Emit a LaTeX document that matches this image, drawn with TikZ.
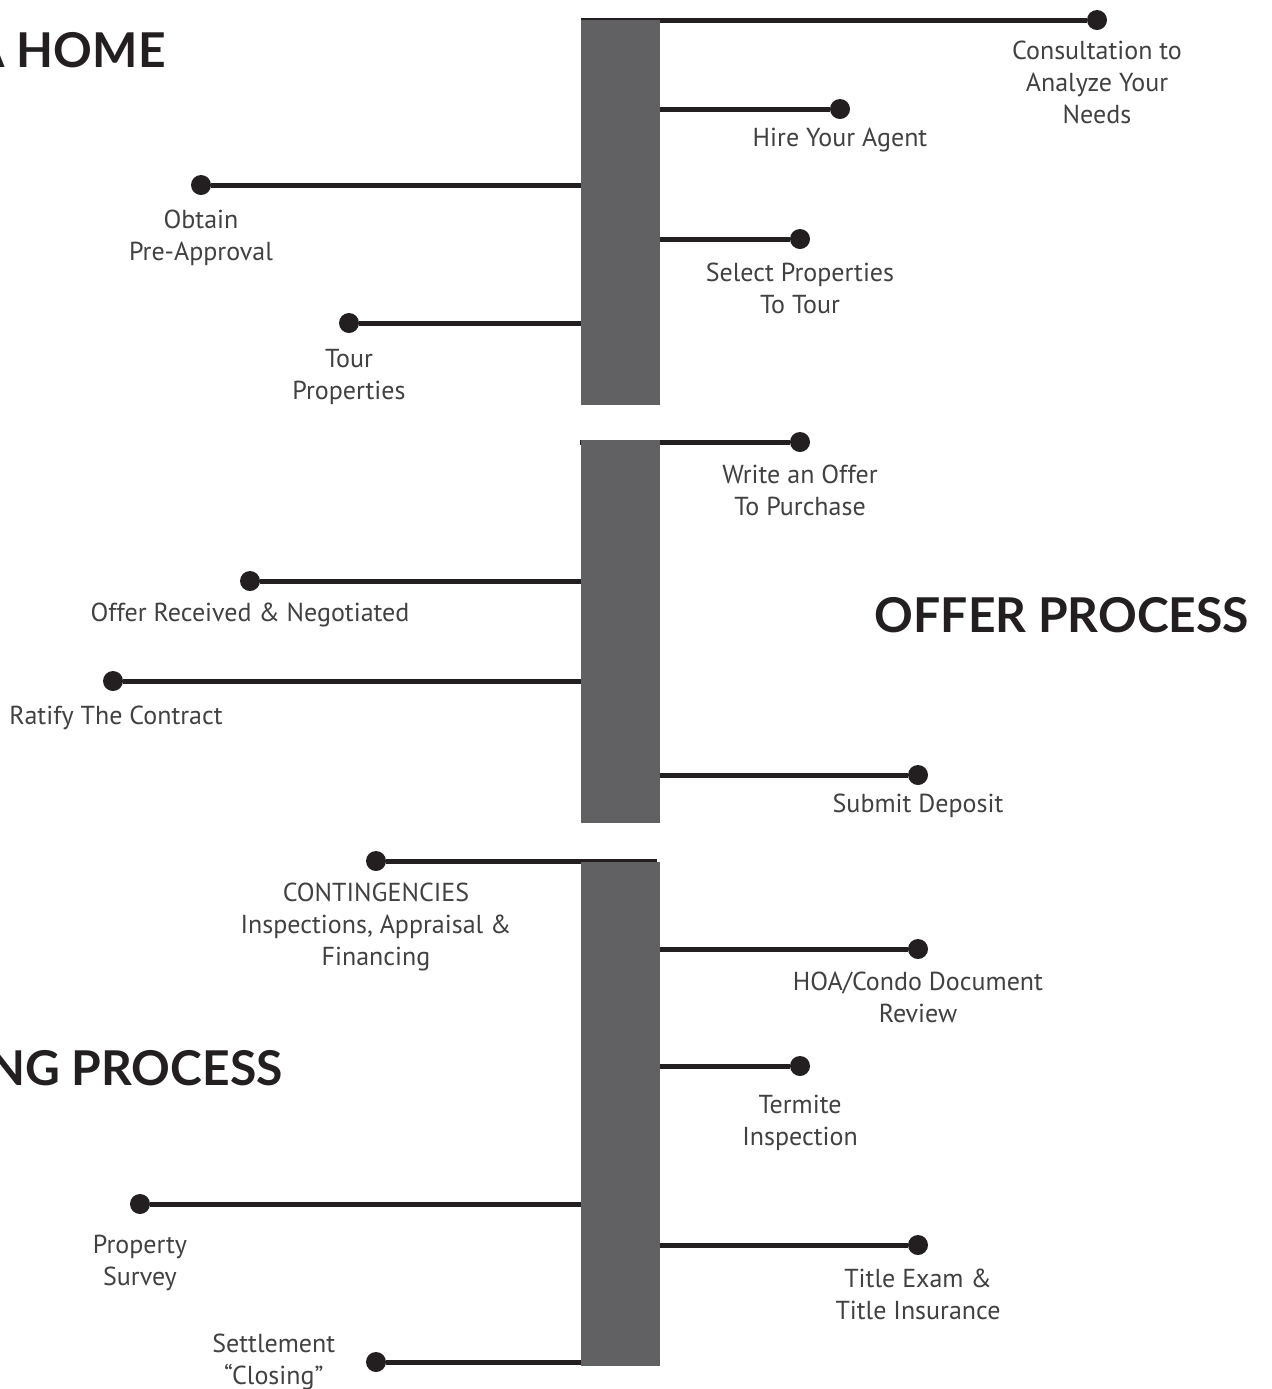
\documentclass[tikz,border=0pt]{standalone}
\usepackage{fontspec}
\setmainfont{PT Sans}
\newfontfamily\titlefont{Lato}
\usetikzlibrary{positioning}

\definecolor{barfill}{HTML}{616163}
\definecolor{inkdark}{HTML}{231F20}
\definecolor{inklabel}{HTML}{414042}

\tikzset{
	stem/.style={line width=2.5pt, color=inkdark},
	knob/.style={circle, fill=inkdark, inner sep=0pt, minimum size=10pt},
	steplabel/.style={align=center, text=inklabel, inner sep=0pt, font=\fontsize{13}{16}\selectfont},
	phase/.style={text=inkdark, inner sep=0pt, font=\titlefont\bfseries\fontsize{24}{30}\selectfont}
}

\begin{document}
\begin{tikzpicture}[x=0.5pt, y=-0.5pt]
	\clip (0,0) rectangle (1272,1389);

	% Titles
	\node[phase, anchor=east] (buytitle) at (166,50) {BUYING A HOME};
	\node[phase] (offertitle) at (1062,615) {OFFER PROCESS};
	\node[phase, anchor=east] (closetitle) at (283,1068) {CLOSING PROCESS};

	% First bar
	\begin{scope}
		\coordinate (consultbar) at (581,20);
		\coordinate (agentbar) at (660,109);
		\coordinate (preappbar) at (581,185);
		\coordinate (selectbar) at (660,239);
		\coordinate (tourbar) at (581,323);

		\node[knob] (consult) at (1097,20) {};
		\node[knob] (agent) at (840,109) {};
		\node[knob] (preapp) at (201,185) {};
		\node[knob] (select) at (800,239) {};
		\node[knob] (tour) at (349,323) {};

		\draw[stem] (consultbar) -- (consult);
		\draw[stem] (agentbar) -- (agent);
		\draw[stem] (preappbar) -- (preapp);
		\draw[stem] (selectbar) -- (select);
		\draw[stem] (tourbar) -- (tour);

		\node[steplabel, below=5pt of consult] {Consultation to\\Analyze Your\\Needs};
		\node[steplabel, below=4pt of agent] {Hire Your Agent};
		\node[steplabel, below=7pt of preapp] {Obtain\\Pre-Approval};
		\node[steplabel, below=6.5pt of select] {Select Properties\\To Tour};
		\node[steplabel, below=7.5pt of tour] {Tour\\Properties};

		\fill[barfill] (581,20) rectangle (660,405);
	\end{scope}

	% Second bar
	\begin{scope}
		\coordinate (writebar) at (580,442);
		\coordinate (receivedbar) at (585,581);
		\coordinate (ratifybar) at (581,681);
		\coordinate (depositbar) at (660,775);

		\node[knob] (write) at (800,442) {};
		\node[knob] (received) at (250,581) {};
		\node[knob] (ratify) at (113,681) {};
		\node[knob] (deposit) at (918,775) {};

		\draw[stem] (writebar) -- (write);
		\draw[stem] (receivedbar) -- (received);
		\draw[stem] (ratifybar) -- (ratify);
		\draw[stem] (depositbar) -- (deposit);

		\node[steplabel, below=6pt of write] {Write an Offer\\To Purchase};
		\node[steplabel, below=5.5pt of received] {Offer Received \& Negotiated};
		\node[steplabel, below=7pt of ratify, xshift=1.5pt] {Ratify The Contract};
		\node[steplabel, below=4pt of deposit] {Submit Deposit};

		\fill[barfill] (581,440) rectangle (660,823);
	\end{scope}

	% Third bar
	\begin{scope}
		\coordinate (contingbar) at (657,861);
		\coordinate (hoabar) at (660,949);
		\coordinate (termitebar) at (660,1066);
		\coordinate (surveybar) at (581,1204);
		\coordinate (titlebar) at (660,1245);
		\coordinate (settlebar) at (581,1362);

		\node[knob] (conting) at (376,861) {};
		\node[knob] (hoa) at (918,949) {};
		\node[knob] (termite) at (800,1066) {};
		\node[knob] (survey) at (140,1204) {};
		\node[knob] (title) at (918,1245) {};
		\node[knob] (settle) at (376,1362) {};

		\draw[stem] (contingbar) -- (conting);
		\draw[stem] (hoabar) -- (hoa);
		\draw[stem] (termitebar) -- (termite);
		\draw[stem] (surveybar) -- (survey);
		\draw[stem] (titlebar) -- (title);
		\draw[stem] (settlebar) -- (settle);

		\node[steplabel, below=5.5pt of conting] {CONTINGENCIES\\Inspections, Appraisal \&\\Financing};
		\node[steplabel, below=6pt of hoa] {HOA/Condo Document\\Review};
		\node[steplabel, below=9pt of termite] {Termite\\Inspection};
		\node[steplabel, below=10pt of survey] {Property\\Survey};
		\node[steplabel, below=6.5pt of title] {Title Exam \&\\Title Insurance};
		\node[steplabel, left=15pt of settle] {Settlement\\``Closing''};

		\fill[barfill] (581,862) rectangle (660,1366);
	\end{scope}
\end{tikzpicture}
\end{document}
